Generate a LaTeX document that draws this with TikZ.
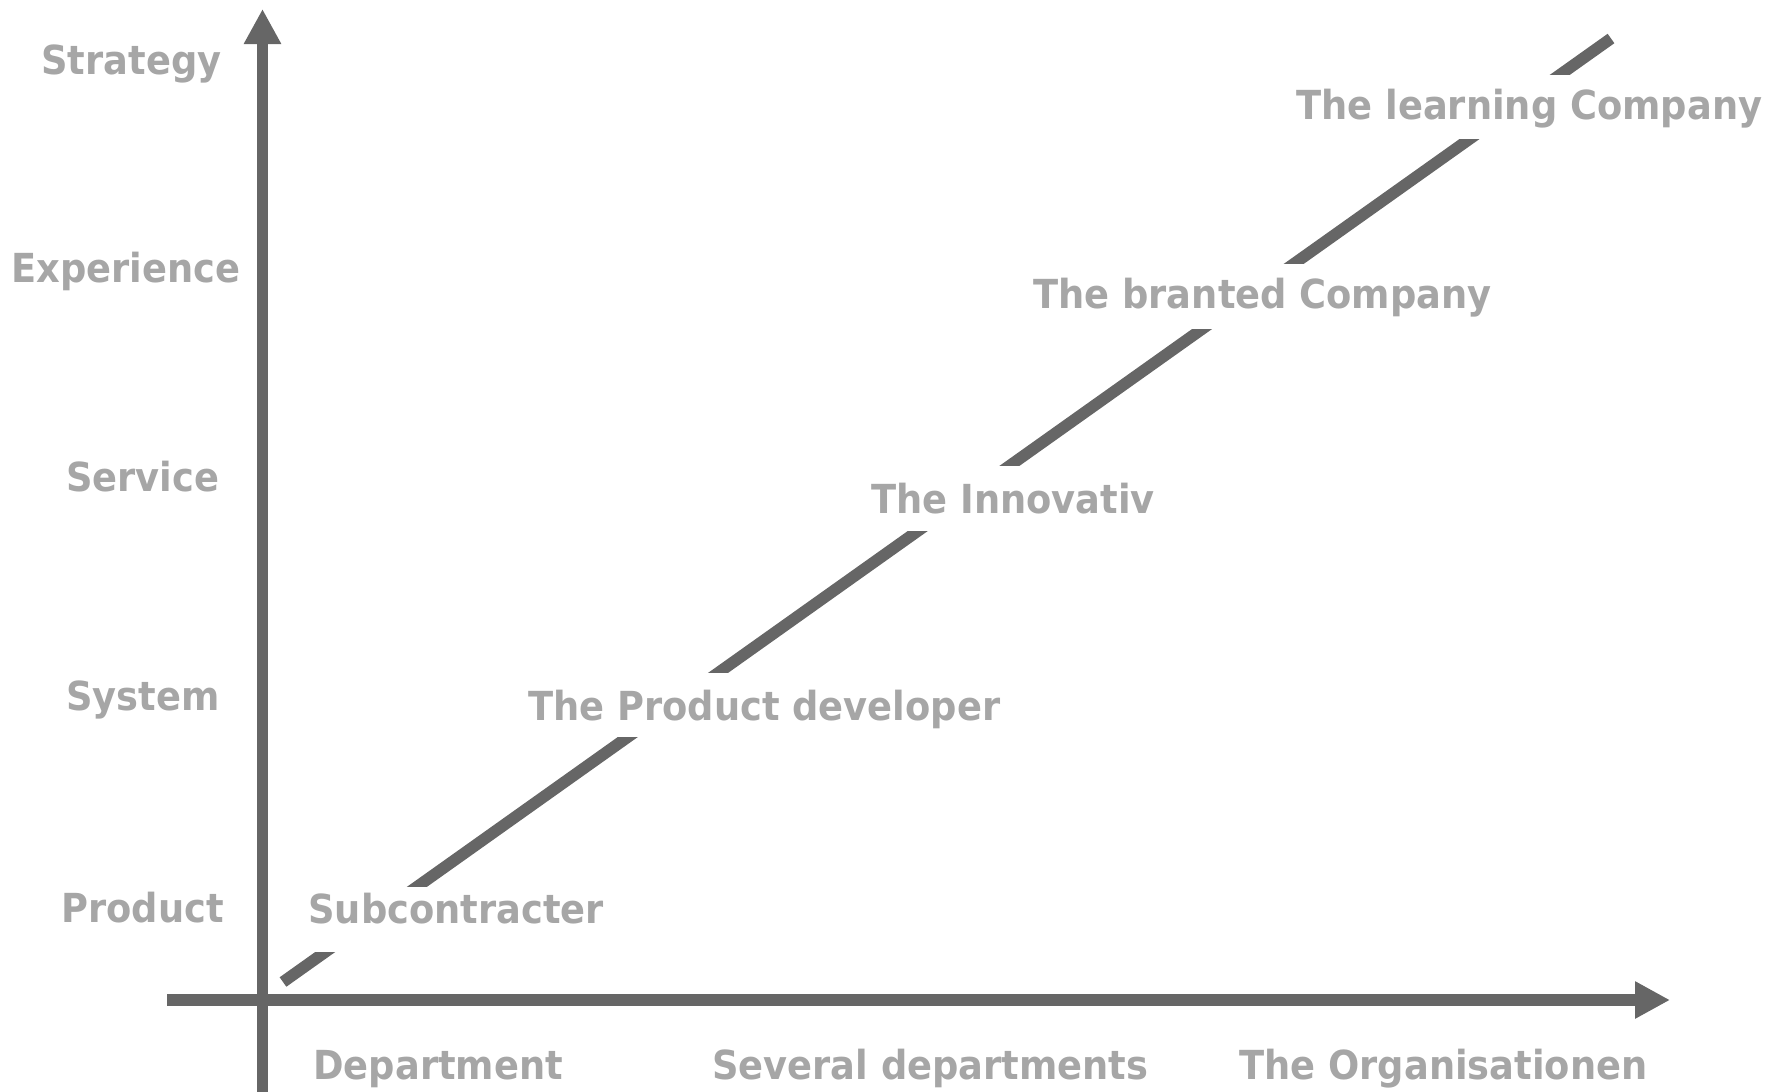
\documentclass[tikz,border=0pt]{standalone}
\usepackage{fontspec}
\setmainfont{DejaVu Sans}[FakeStretch=0.92]
\usetikzlibrary{arrows.meta}
\definecolor{axisgrey}{HTML}{666666}
\definecolor{labelgrey}{HTML}{A6A6A6}
\begin{document}
\begin{tikzpicture}[x=0.5pt,y=-0.5pt,
  axisline/.style={draw=axisgrey,line width=5.8pt,
    -{Triangle[length=17.5pt,width=17.5pt]}},
  trendline/.style={draw=axisgrey,line width=5.8pt,line cap=butt},
  lbl/.style={text=labelgrey,font=\bfseries\fontsize{20pt}{24pt}\selectfont,
    inner sep=0pt,anchor=base west},
  stage/.style={lbl,fill=white}]
\useasboundingbox (0,0) rectangle (1783,1092);

% axes
\coordinate (ybot) at (262.5,1092);
\coordinate (ytop) at (262.5,9);
\coordinate (xleft) at (167,1000);
\coordinate (xright) at (1670,1000);
\draw[axisline] (ybot) -- (ytop);
\draw[axisline] (xleft) -- (xright);

% development line
\coordinate (d0) at (283,982);
\coordinate (d1) at (1611,38.5);
\draw[trendline] (d0) -- (d1);

% stages along the line (white boxes break the line)
\node[stage,text height=18pt,text depth=14.5pt] (sub) at (308,923) {Subcontracter};
\node[stage,text height=23.5pt,text depth=8.5pt] (prod) at (528,720) {The Product developer};
\node[stage,text height=23.5pt,text depth=9pt] (inno) at (871,513) {The Innovativ};
\node[stage,text height=22pt,text depth=10.5pt] (brand) at (1033,308) {The branted Company};
\node[stage,text height=22pt,text depth=10pt] (learn) at (1296,119) {The learning Company};

% vertical scale
\node[lbl] (strategy) at (41,74) {Strategy};
\node[lbl] (experience) at (11,282) {Experience};
\node[lbl] (service) at (66,491) {Service};
\node[lbl] (system) at (66,710) {System};
\node[lbl] (product) at (61,922) {Product};

% horizontal scale
\node[lbl] (dept) at (313,1079) {Department};
\node[lbl] (several) at (712,1079) {Several departments};
\node[lbl] (org) at (1239,1079) {The Organisationen};
\end{tikzpicture}
\end{document}
